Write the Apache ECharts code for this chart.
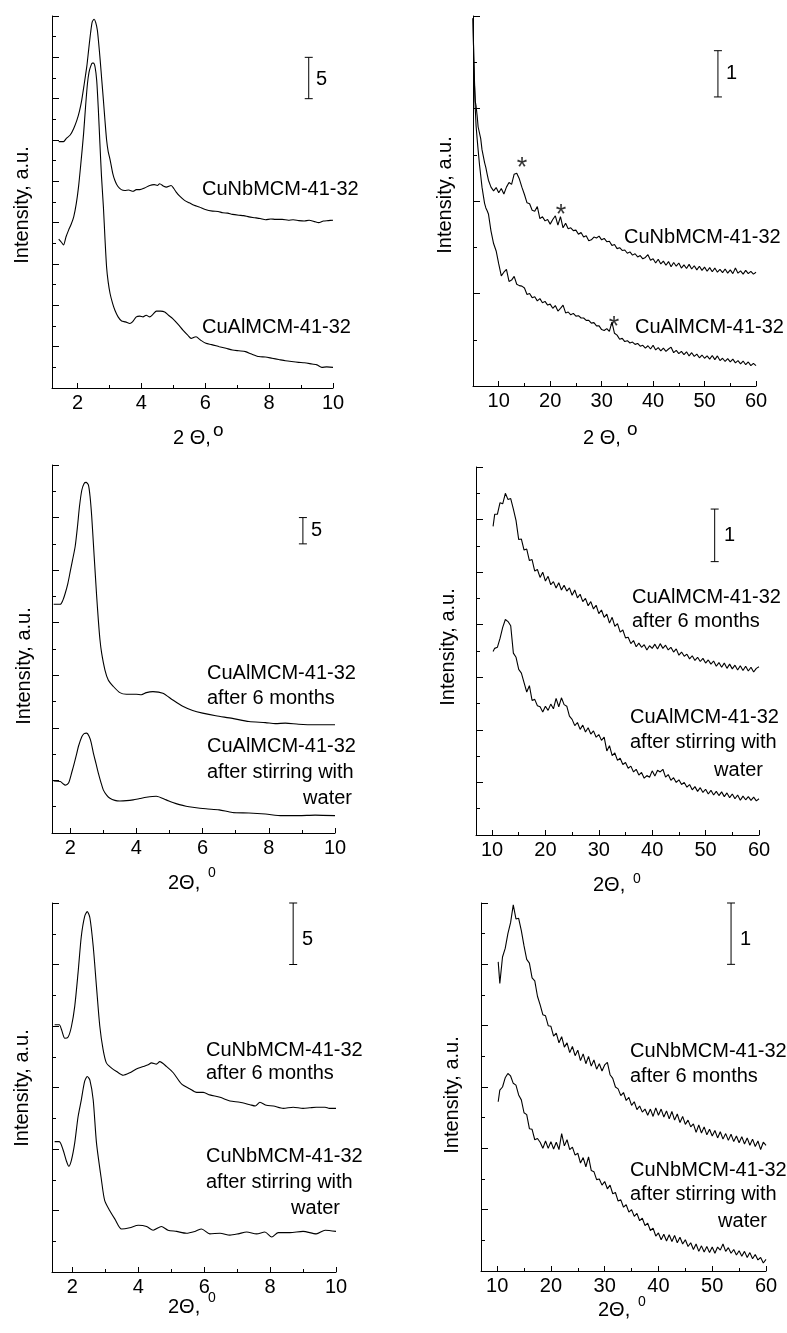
<!DOCTYPE html>
<html>
<head>
<meta charset="utf-8">
<script src="https://cdn.jsdelivr.net/npm/echarts@6/dist/echarts.min.js"></script>
<style>
  html, body { margin: 0; padding: 0; background: #fff; }
  #main { width: 787px; height: 1333px; }
</style>
</head>
<body>
<div id="main"></div>
<script>
// tick values
const lowMajor = [2, 4, 6, 8, 10];
const lowMinor = [3, 5, 7, 9];
const wideMajor = [10, 20, 30, 40, 50, 60];
const wideMinor = [15, 25, 35, 45, 55];

// panel 1: CuNbMCM-41-32 / CuAlMCM-41-32, low angle
const p1NbX = [1.41, 1.56, 1.65, 1.77, 1.88, 1.98, 2.06, 2.13, 2.21, 2.29,
  2.35, 2.41, 2.46, 2.52, 2.57, 2.62, 2.66, 2.71, 2.76, 2.81,
  2.86, 2.91, 2.96, 3.02, 3.10, 3.17, 3.26, 3.37, 3.48, 3.6,
  3.74, 3.84, 3.95, 4.1, 4.26, 4.4, 4.5, 4.57, 4.7, 4.78,
  4.93, 5.02, 5.09, 5.2, 5.35, 5.5, 5.65, 5.81, 6.0, 6.23,
  6.4, 6.55, 6.7, 6.85, 7.05, 7.2, 7.37, 7.55, 7.72, 7.89,
  8.05, 8.2, 8.41, 8.6, 8.75, 8.93, 9.1, 9.25, 9.44, 9.55,
  9.7, 9.85, 10.0];
const p1NbY = [29.8, 29.8, 30.2, 30.6, 31.4, 32.4, 33.5, 34.8, 36.8, 38.9,
  41.0, 43.0, 44.3, 44.6, 44.2, 43.3, 41.8, 39.6, 37.2, 34.8,
  32.3, 30.0, 28.6, 27.6, 26.0, 25.1, 24.4, 24.0, 23.9, 23.95,
  23.8, 24.0, 24.0, 24.2, 24.5, 24.6, 24.5, 24.7, 24.4, 24.3,
  24.5, 24.1, 23.7, 23.2, 22.7, 22.4, 22.1, 21.9, 21.6, 21.4,
  21.35, 21.2, 21.15, 21.0, 20.9, 20.85, 20.7, 20.6, 20.5, 20.35,
  20.45, 20.4, 20.4, 20.3, 20.35, 20.25, 20.2, 20.3, 20.1, 20.0,
  20.2, 20.25, 20.3];
const p1AlX = [1.41, 1.5, 1.56, 1.64, 1.72, 1.8, 1.88, 1.96, 2.03, 2.1,
  2.19, 2.25, 2.31, 2.36, 2.41, 2.46, 2.5, 2.55, 2.6, 2.65,
  2.7, 2.75, 2.81, 2.86, 2.91, 2.96, 3.02, 3.1, 3.17, 3.27,
  3.38, 3.5, 3.64, 3.72, 3.84, 3.95, 4.05, 4.15, 4.26, 4.36,
  4.47, 4.6, 4.73, 4.85, 4.98, 5.15, 5.3, 5.45, 5.56, 5.65,
  5.71, 5.85, 6.02, 6.2, 6.44, 6.65, 6.85, 7.05, 7.26, 7.45,
  7.68, 7.88, 8.09, 8.3, 8.51, 8.7, 8.92, 9.1, 9.34, 9.5,
  9.65, 9.8, 10.0];
const p1AlY = [18.0, 17.6, 17.3, 18.3, 19.1, 19.8, 20.7, 22.3, 24.3, 27.0,
  30.8, 34.0, 36.8, 38.2, 38.9, 39.3, 39.3, 38.8, 37.2, 33.8,
  29.6, 25.6, 21.9, 18.0, 14.6, 12.8, 11.4, 10.2, 9.4, 8.6,
  8.1, 8.0, 7.8, 8.0, 8.6, 8.7, 8.6, 8.8, 8.6, 8.9,
  9.3, 9.3, 9.2, 8.8, 8.4, 7.7, 7.0, 6.4, 6.0, 6.15,
  6.2, 5.8, 5.4, 5.25, 5.0, 4.8, 4.6, 4.5, 4.4, 4.1,
  3.8, 3.75, 3.6, 3.45, 3.3, 3.2, 3.1, 3.05, 2.9, 2.8,
  2.5, 2.55, 2.5];

// panel 2: wide angle, 5-60
const p2X = [5, 5.15, 5.3, 5.45, 5.6, 5.8, 6, 6.25, 6.5, 6.75, 7, 7.25, 7.5, 7.75, 8,
  8.5, 9, 9.5, 10, 10.5, 11, 11.5, 12, 12.5, 13,
  13.5, 14, 14.5, 15, 15.5, 16, 16.5, 17, 17.5, 18,
  18.5, 19, 19.5, 20, 20.5, 21, 21.5, 22, 22.5, 23,
  23.5, 24, 24.5, 25, 25.5, 26, 26.5, 27, 27.5, 28,
  28.5, 29, 29.5, 30, 30.5, 31, 31.5, 32, 32.5, 33,
  33.5, 34, 34.5, 35, 35.5, 36, 36.5, 37, 37.5, 38,
  38.5, 39, 39.5, 40, 40.5, 41, 41.5, 42, 42.5, 43,
  43.5, 44, 44.5, 45, 45.5, 46, 46.5, 47, 47.5, 48,
  48.5, 49, 49.5, 50, 50.5, 51, 51.5, 52, 52.5, 53,
  53.5, 54, 54.5, 55, 55.5, 56, 56.5, 57, 57.5, 58,
  58.5, 59, 59.5, 60];
const p2NbY = [7.95, 7.1, 6.55, 6.15, 6.05, 5.85, 5.6, 5.57, 5.35, 5.11, 4.97, 4.83, 4.72, 4.58, 4.45,
  4.3, 4.22, 4.29, 4.18, 4.27, 4.15, 4.3, 4.4, 4.36, 4.58,
  4.6, 4.48, 4.3, 4.14, 3.96, 3.94, 3.8, 3.78, 3.88, 3.62,
  3.66, 3.57, 3.6, 3.5, 3.6, 3.68, 3.48, 3.66, 3.42, 3.52,
  3.4, 3.42, 3.36, 3.37, 3.28, 3.32, 3.22, 3.25, 3.14, 3.16,
  3.22, 3.2, 3.24, 3.16, 3.19, 3.12, 3.13, 3.04, 3.06, 2.97,
  2.99, 2.93, 2.94, 2.87, 2.9, 2.83, 2.86, 2.79, 2.82, 2.75,
  2.78, 2.84, 2.72, 2.75, 2.66, 2.74, 2.64, 2.7, 2.61, 2.69,
  2.58, 2.67, 2.59, 2.66, 2.55, 2.62, 2.54, 2.63, 2.53, 2.6,
  2.51, 2.59, 2.5, 2.57, 2.48, 2.56, 2.47, 2.55, 2.46, 2.52,
  2.45, 2.53, 2.44, 2.51, 2.43, 2.55, 2.44, 2.49, 2.42, 2.5,
  2.43, 2.48, 2.42, 2.46];
const p2AlY = [7.95, 7.05, 6.45, 5.98, 5.62, 5.35, 5.1, 4.8, 4.55, 4.3, 4.12, 3.95, 3.85, 3.79, 3.72,
  3.35, 3.08, 2.92, 2.64, 2.38, 2.46, 2.52, 2.26, 2.29, 2.37,
  2.2, 2.17, 2.16, 2.12, 1.98, 2.0, 1.91, 1.93, 1.84, 1.89,
  1.8, 1.83, 1.75, 1.77, 1.68, 1.74, 1.62, 1.68, 1.75, 1.58,
  1.6, 1.54, 1.57, 1.51, 1.52, 1.47, 1.47, 1.42, 1.42, 1.36,
  1.37, 1.3, 1.3, 1.22, 1.2, 1.24, 1.18, 1.38, 1.14, 1.1,
  1.01, 1.03, 0.96, 0.98, 0.93, 0.95, 0.9, 0.92, 0.86, 0.88,
  0.82, 0.87, 0.8, 0.88, 0.78, 0.83, 0.76, 0.82, 0.75, 0.8,
  0.84, 0.72, 0.77, 0.7, 0.75, 0.68, 0.74, 0.65, 0.72, 0.64,
  0.69, 0.61, 0.67, 0.6, 0.65, 0.58, 0.66, 0.57, 0.65, 0.55,
  0.6, 0.53, 0.59, 0.52, 0.58, 0.5, 0.55, 0.48, 0.54, 0.46,
  0.52, 0.44, 0.49, 0.44];
const starX = [14.5, 22.1, 32.4];
const starY = [4.83, 3.81, 1.39];

// panel 3: CuAlMCM-41-32 aged / stirred, low angle
const p3AgedX = [1.5, 1.7, 1.78, 1.85, 1.93, 2.0, 2.07, 2.15, 2.22, 2.28,
  2.35, 2.42, 2.48, 2.55, 2.6, 2.65, 2.7, 2.75, 2.8, 2.85,
  2.9, 2.95, 3.05, 3.15, 3.3, 3.5, 3.7, 4.0, 4.15, 4.3,
  4.5, 4.8, 5.1, 5.4, 5.7, 6.0, 6.4, 6.9, 7.4, 7.9,
  8.2, 8.5, 8.9, 9.4, 10.0];
const p3AgedY = [43.5, 43.5, 44.3, 45.6, 47.5, 49.7, 51.9, 54.5, 58.3, 62.1,
  65.2, 66.5, 66.7, 66.2, 64.0, 60.2, 55.1, 50.0, 45.0, 40.5,
  36.7, 34.2, 31.0, 29.1, 27.9, 26.7, 26.4, 26.4, 26.3, 26.7,
  26.9, 26.6, 25.3, 24.1, 23.3, 22.8, 22.3, 21.8, 21.2, 21.0,
  20.8, 20.9, 20.7, 20.6, 20.6];
const p3WaterX = [1.5, 1.7, 1.78, 1.85, 1.95, 2.05, 2.1, 2.2, 2.25, 2.35,
  2.42, 2.5, 2.57, 2.63, 2.7, 2.78, 2.85, 2.93, 3.0, 3.1,
  3.2, 3.35, 3.5, 3.7, 3.9, 4.1, 4.3, 4.6, 4.9, 5.1,
  5.3, 5.5, 5.7, 6.1, 6.5, 6.9, 7.4, 7.9, 8.4, 8.9,
  9.4, 10.0];
const p3WaterY = [9.9, 9.8, 9.4, 9.1, 9.5, 11.6, 12.7, 15.2, 16.5, 18.3,
  18.9, 19.0, 18.4, 17.3, 15.2, 13.2, 11.4, 9.6, 8.2, 7.2,
  6.6, 6.2, 6.1, 6.15, 6.3, 6.55, 6.8, 7.0, 6.3, 5.8,
  5.4, 5.1, 4.9, 4.6, 4.4, 3.9, 3.8, 3.6, 3.3, 3.3,
  3.4, 3.3];

// panels 4 and 6 share one 2-theta grid
const wideX = [10.2,
  10.5, 11, 11.5, 12, 12.5, 13, 13.5, 14, 14.5, 15,
  15.5, 16, 16.5, 17, 17.5, 18, 18.5, 19, 19.5, 20,
  20.5, 21, 21.5, 22, 22.5, 23, 23.5, 24, 24.5, 25,
  25.5, 26, 26.5, 27, 27.5, 28, 28.5, 29, 29.5, 30,
  30.5, 31, 31.5, 32, 32.5, 33, 33.5, 34, 34.5, 35,
  35.5, 36, 36.5, 37, 37.5, 38, 38.5, 39, 39.5, 40,
  40.5, 41, 41.5, 42, 42.5, 43, 43.5, 44, 44.5, 45,
  45.5, 46, 46.5, 47, 47.5, 48, 48.5, 49, 49.5, 50,
  50.5, 51, 51.5, 52, 52.5, 53, 53.5, 54, 54.5, 55,
  55.5, 56, 56.5, 57, 57.5, 58, 58.5, 59, 59.5, 60];

// panel 4: CuAlMCM-41-32 aged / stirred, wide angle
const p4AgedY = [5.87,
  6.1, 6.1, 6.32, 6.3, 6.5, 6.38, 6.4, 6.2, 5.98, 5.62,
  5.63, 5.42, 5.44, 5.22, 5.24, 5.02, 5.05, 4.9, 5.0, 4.83,
  4.92, 4.76, 4.82, 4.7, 4.8, 4.66, 4.75, 4.64, 4.7, 4.56,
  4.66, 4.51, 4.58, 4.44, 4.5, 4.36, 4.44, 4.3, 4.37, 4.21,
  4.28, 4.14, 4.2, 4.03, 4.14, 3.97, 4.02, 3.86, 3.9, 3.75,
  3.76, 3.64, 3.7, 3.58, 3.65, 3.57, 3.62, 3.52, 3.6, 3.55,
  3.63, 3.54, 3.64, 3.55, 3.61, 3.52, 3.57, 3.48, 3.54, 3.42,
  3.48, 3.4, 3.44, 3.35, 3.41, 3.32, 3.38, 3.3, 3.36, 3.27,
  3.33, 3.25, 3.31, 3.21, 3.28, 3.19, 3.27, 3.17, 3.25, 3.16,
  3.23, 3.14, 3.22, 3.13, 3.21, 3.12, 3.19, 3.1, 3.17, 3.2];
const p4WaterY = [3.49,
  3.55, 3.57, 3.74, 3.95, 4.1, 4.06, 3.98, 3.46, 3.38, 3.15,
  3.08, 2.9, 2.72, 2.84, 2.56, 2.58, 2.46, 2.44, 2.34, 2.45,
  2.37, 2.49, 2.4, 2.6, 2.44, 2.61, 2.48, 2.45, 2.26, 2.2,
  2.08, 2.14, 2.01, 2.09, 1.96, 2.04, 1.92, 1.98, 1.86, 1.91,
  1.8, 1.86, 1.6, 1.7, 1.51, 1.56, 1.42, 1.46, 1.34, 1.38,
  1.27, 1.31, 1.2, 1.25, 1.14, 1.19, 1.08, 1.13, 1.1, 1.22,
  1.12, 1.23, 1.2, 1.25, 1.1, 1.15, 1.04, 1.09, 1.0, 1.05,
  0.96, 1.0, 0.91, 0.96, 0.86, 0.92, 0.83, 0.9, 0.81, 0.87,
  0.78, 0.85, 0.76, 0.83, 0.75, 0.82, 0.73, 0.8, 0.71, 0.78,
  0.69, 0.76, 0.66, 0.74, 0.67, 0.73, 0.66, 0.72, 0.65, 0.69];

// panel 5: CuNbMCM-41-32 aged / stirred, low angle
const p5AgedX = [1.46, 1.6, 1.67, 1.77, 1.87, 1.97, 2.07, 2.17, 2.27, 2.37,
  2.45, 2.53, 2.63, 2.73, 2.83, 2.93, 3.03, 3.18, 3.34, 3.54,
  3.74, 3.94, 4.15, 4.3, 4.4, 4.55, 4.65, 4.86, 5.06, 5.31,
  5.56, 5.77, 5.97, 6.17, 6.48, 6.78, 7.08, 7.39, 7.55, 7.69,
  7.89, 8.1, 8.4, 8.7, 9.0, 9.2, 9.4, 9.67, 9.8, 10.0];
const p5AgedY = [20.1, 20.1, 19.7, 19.0, 19.1, 19.96, 21.6, 24.3, 27.3, 28.9,
  29.3, 28.8, 26.5, 23.2, 20.0, 18.1, 17.0, 16.6, 16.3, 16.0,
  16.2, 16.5, 16.7, 16.85, 17.0, 16.9, 17.1, 16.7, 16.2, 15.3,
  14.9, 14.6, 14.6, 14.4, 14.2, 13.9, 13.8, 13.6, 13.5, 13.8,
  13.55, 13.5, 13.3, 13.4, 13.3, 13.35, 13.4, 13.4, 13.3, 13.3];
const p5WaterX = [1.46, 1.6, 1.72, 1.82, 1.89, 1.97, 2.07, 2.17, 2.27, 2.37,
  2.45, 2.53, 2.63, 2.73, 2.88, 2.98, 3.13, 3.29, 3.49, 3.74,
  4.0, 4.25, 4.45, 4.7, 4.9, 5.16, 5.46, 5.72, 5.92, 6.17,
  6.48, 6.78, 7.03, 7.29, 7.59, 7.84, 8.05, 8.25, 8.6, 9.0,
  9.4, 9.67, 10.0];
const p5WaterY = [10.6, 10.6, 9.9, 9.0, 8.6, 9.1, 10.5, 12.6, 14.0, 15.5,
  15.9, 15.6, 14.0, 10.5, 7.5, 5.8, 5.0, 4.3, 3.5, 3.6,
  3.8, 3.7, 3.4, 3.7, 3.4, 3.3, 3.15, 3.3, 3.5, 3.1,
  3.15, 3.0, 3.1, 3.25, 3.1, 3.25, 2.85, 3.2, 3.2, 3.3,
  3.1, 3.4, 3.3];

// panel 6: CuNbMCM-41-32 aged / stirred, wide angle
const p6AgedY = [5.04,
  4.69, 5.12, 5.26, 5.5, 5.68, 5.97, 5.74, 5.75, 5.55, 5.3,
  5.08, 5.02, 4.78, 4.73, 4.48, 4.34, 4.18, 4.16, 4.0, 3.99,
  3.83, 3.88, 3.72, 3.82, 3.65, 3.72, 3.56, 3.66, 3.51, 3.6,
  3.43, 3.54, 3.38, 3.5, 3.34, 3.44, 3.29, 3.38, 3.26, 3.36,
  3.4, 3.2, 3.14, 3.0, 2.97, 2.86, 2.91, 2.78, 2.83, 2.7,
  2.76, 2.63, 2.69, 2.59, 2.64, 2.54, 2.64, 2.52, 2.66, 2.54,
  2.64, 2.51, 2.61, 2.48, 2.6, 2.46, 2.56, 2.42, 2.52, 2.39,
  2.46, 2.35, 2.4, 2.26, 2.38, 2.25, 2.35, 2.22, 2.31, 2.2,
  2.29, 2.17, 2.27, 2.15, 2.24, 2.13, 2.23, 2.11, 2.2, 2.09,
  2.19, 2.07, 2.17, 2.05, 2.15, 2.03, 2.12, 1.98, 2.1, 2.05];
const p6WaterY = [2.76,
  2.95, 3.0, 3.15, 3.22, 3.18, 3.06, 3.03, 2.87, 2.79, 2.58,
  2.55, 2.32, 2.31, 2.14, 2.16, 2.1, 2.0, 2.12, 2.0, 2.11,
  1.99, 2.1, 1.98, 2.24, 2.04, 2.14, 1.98, 2.02, 1.89, 1.92,
  1.76, 1.85, 1.7, 1.86, 1.64, 1.62, 1.49, 1.5, 1.4, 1.46,
  1.34, 1.4, 1.26, 1.28, 1.14, 1.16, 1.04, 1.08, 0.96, 1.0,
  0.89, 0.94, 0.82, 0.86, 0.74, 0.78, 0.66, 0.7, 0.57, 0.62,
  0.51, 0.6, 0.49, 0.59, 0.48, 0.58, 0.46, 0.55, 0.44, 0.51,
  0.4, 0.46, 0.35, 0.44, 0.32, 0.41, 0.31, 0.4, 0.3, 0.39,
  0.29, 0.39, 0.34, 0.44, 0.32, 0.38, 0.29, 0.35, 0.26, 0.33,
  0.24, 0.32, 0.22, 0.3, 0.2, 0.27, 0.18, 0.22, 0.13, 0.19];

// scale bars (x, bottom, top) per panel
const barX = [9.24, 52.6, 9.03, 51.7, 8.7, 53.5];
const barLo = [35, 6.25, 55, 5.2, 25, 5];
const barHi = [40, 7.25, 60, 6.2, 30, 6];
const barText = ['5', '1', '5', '1', '5', '1'];

const FONT = '"Liberation Sans", Arial, sans-serif';
const INK = '#000';

const panels = [
  { left: 52, top: 16, width: 281, height: 372, xMin: 1.2, xMax: 10, yMax: 45, yStep: 5, major: lowMajor, minor: lowMinor },
  { left: 473, top: 16, width: 283, height: 370, xMin: 5, xMax: 60, yMax: 8, yStep: 2, major: wideMajor, minor: wideMinor },
  { left: 52, top: 465, width: 283, height: 368, xMin: 1.45, xMax: 10, yMax: 70, yStep: 10, major: lowMajor, minor: lowMinor },
  { left: 476, top: 467, width: 283, height: 368, xMin: 7, xMax: 60, yMax: 7, yStep: 1, major: wideMajor, minor: wideMinor },
  { left: 52, top: 903, width: 284, height: 369, xMin: 1.38, xMax: 10, yMax: 30, yStep: 5, major: lowMajor, minor: lowMinor },
  { left: 481, top: 903, width: 285, height: 368, xMin: 7, xMax: 60, yMax: 6, yStep: 1, major: wideMajor, minor: wideMinor }
];

function zip(xs, ys) {
  return xs.map((x, i) => [x, ys[i]]);
}

function curve(i, xs, ys, smooth) {
  return {
    type: 'line', xAxisIndex: i, yAxisIndex: i,
    data: zip(xs, ys),
    symbol: 'none', showSymbol: false,
    smooth: smooth ? 0.25 : false,
    lineStyle: { color: INK, width: 1.1 },
    silent: true
  };
}

function txt(x, y, text, size, align, rot) {
  return {
    type: 'text', x: x, y: y, rotation: rot || 0, silent: true,
    style: {
      text: text, fill: INK, fontSize: size, fontFamily: FONT,
      align: align || 'left', verticalAlign: 'middle'
    }
  };
}

const grid = panels.map(p => ({ left: p.left, top: p.top, width: p.width, height: p.height, containLabel: false }));

const xMain = panels.map((p, i) => ({
  type: 'value', gridIndex: i, min: p.xMin, max: p.xMax, position: 'bottom',
  axisLine: { show: true, onZero: false, lineStyle: { color: INK, width: 1 } },
  axisTick: { show: true, inside: true, length: 5, customValues: p.major, lineStyle: { color: INK } },
  axisLabel: { show: true, customValues: p.major, margin: 5, color: INK, fontSize: 20, fontFamily: FONT },
  splitLine: { show: false }
}));
const xMinor = panels.map((p, i) => ({
  type: 'value', gridIndex: i, min: p.xMin, max: p.xMax, position: 'bottom',
  axisLine: { show: false },
  axisTick: { show: true, inside: true, length: 3, customValues: p.minor, lineStyle: { color: INK } },
  axisLabel: { show: false },
  splitLine: { show: false }
}));

const yAxes = panels.map((p, i) => ({
  type: 'value', gridIndex: i, min: 0, max: p.yMax, interval: p.yStep,
  axisLine: { show: true, onZero: false, lineStyle: { color: INK, width: 1 } },
  axisTick: { show: true, inside: true, length: 7, lineStyle: { color: INK } },
  minorTick: { show: true, splitNumber: 2, length: 4, lineStyle: { color: INK } },
  axisLabel: { show: false },
  splitLine: { show: false }
}));

const series = [
  curve(0, p1NbX, p1NbY, true),
  curve(0, p1AlX, p1AlY, true),
  curve(1, p2X, p2NbY, false),
  curve(1, p2X, p2AlY, false),
  curve(2, p3AgedX, p3AgedY, true),
  curve(2, p3WaterX, p3WaterY, true),
  curve(3, wideX, p4AgedY, false),
  curve(3, wideX, p4WaterY, false),
  curve(4, p5AgedX, p5AgedY, true),
  curve(4, p5WaterX, p5WaterY, true),
  curve(5, wideX, p6AgedY, false),
  curve(5, wideX, p6WaterY, false),
  {
    type: 'scatter', xAxisIndex: 1, yAxisIndex: 1,
    data: zip(starX, starY),
    symbol: 'circle', symbolSize: 1, itemStyle: { color: 'rgba(0,0,0,0)' },
    label: { show: true, position: 'inside', formatter: '*', color: INK, fontSize: 27, fontFamily: FONT, offset: [0, 6] },
    silent: true
  }
];

barX.forEach((bx, i) => {
  series.push({
    type: 'line', xAxisIndex: i, yAxisIndex: i,
    data: [[bx, barLo[i]], [bx, barHi[i]]],
    symbol: 'rect', symbolSize: [8, 1], showSymbol: true,
    itemStyle: { color: INK },
    lineStyle: { color: INK, width: 1 },
    label: { show: false },
    silent: true
  });
});

const graphics = [
  // panel 1
  txt(202, 189, 'CuNbMCM-41-32', 20),
  txt(202, 327, 'CuAlMCM-41-32', 20),
  txt(316, 79, barText[0], 20),
  txt(22, 205, 'Intensity, a.u.', 20, 'center', Math.PI / 2),
  txt(173, 438, '2 Θ,', 20),
  txt(213, 431, 'o', 19),
  // panel 2
  txt(624, 237, 'CuNbMCM-41-32', 20),
  txt(635, 327, 'CuAlMCM-41-32', 20),
  txt(726, 73, barText[1], 20),
  txt(445, 195, 'Intensity, a.u.', 20, 'center', Math.PI / 2),
  txt(583, 438, '2 Θ,', 20),
  txt(627, 430, 'o', 19),
  // panel 3
  txt(207, 673, 'CuAlMCM-41-32', 20),
  txt(207, 698, 'after 6 months', 20),
  txt(207, 746, 'CuAlMCM-41-32', 20),
  txt(207, 772, 'after stirring with', 20),
  txt(352, 798, 'water', 20, 'right'),
  txt(311, 530, barText[2], 20),
  txt(24, 666, 'Intensity, a.u.', 20, 'center', Math.PI / 2),
  txt(168, 883, '2Θ,', 20),
  txt(208, 873, '0', 14),
  // panel 4
  txt(632, 597, 'CuAlMCM-41-32', 20),
  txt(632, 621, 'after 6 months', 20),
  txt(630, 717, 'CuAlMCM-41-32', 20),
  txt(630, 742, 'after stirring with', 20),
  txt(763, 770, 'water', 20, 'right'),
  txt(724, 535, barText[3], 20),
  txt(448, 647, 'Intensity, a.u.', 20, 'center', Math.PI / 2),
  txt(593, 885, '2Θ,', 20),
  txt(633, 879, '0', 14),
  // panel 5
  txt(206, 1050, 'CuNbMCM-41-32', 20),
  txt(206, 1073, 'after 6 months', 20),
  txt(206, 1156, 'CuNbMCM-41-32', 20),
  txt(206, 1182, 'after stirring with', 20),
  txt(340, 1208, 'water', 20, 'right'),
  txt(302, 939, barText[4], 20),
  txt(22, 1088, 'Intensity, a.u.', 20, 'center', Math.PI / 2),
  txt(168, 1307, '2Θ,', 20),
  txt(208, 1298, '0', 14),
  // panel 6
  txt(630, 1051, 'CuNbMCM-41-32', 20),
  txt(630, 1076, 'after 6 months', 20),
  txt(630, 1170, 'CuNbMCM-41-32', 20),
  txt(630, 1194, 'after stirring with', 20),
  txt(767, 1221, 'water', 20, 'right'),
  txt(740, 939, barText[5], 20),
  txt(452, 1095, 'Intensity, a.u.', 20, 'center', Math.PI / 2),
  txt(598, 1310, '2Θ,', 20),
  txt(638, 1302, '0', 14)
];

const chart = echarts.init(document.getElementById('main'), null, { renderer: 'canvas' });
chart.setOption({
  backgroundColor: '#fff',
  animation: false,
  grid: grid,
  xAxis: xMain.concat(xMinor),
  yAxis: yAxes,
  series: series,
  graphic: graphics
});
</script>
</body>
</html>
